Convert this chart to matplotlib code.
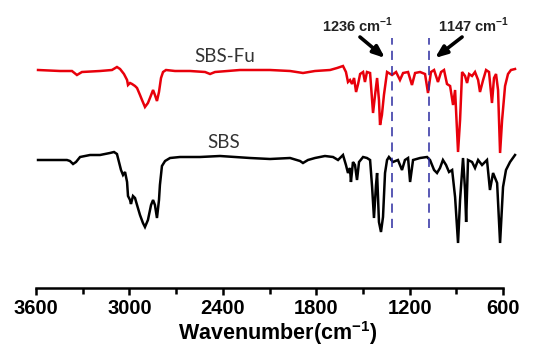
import matplotlib
matplotlib.use("Agg")
import matplotlib.pyplot as plt
import numpy as np

# ---- data (wavenumber cm-1, transmittance a.u.) ----
red_wn = [3587, 3446, 3369, 3337, 3305, 3189, 3112, 3080, 3060, 3035, 3015, 3009, 2996, 2983,
          2964, 2951, 2932, 2919, 2900, 2881, 2868, 2848, 2836, 2823, 2810, 2797, 2784, 2765,
          2707, 2611, 2514, 2482, 2450, 2290, 2097, 1968, 1885, 1808, 1711, 1666, 1628, 1609,
          1596, 1583, 1570, 1557, 1544, 1531, 1518, 1499, 1487, 1474, 1454, 1435, 1422, 1409,
          1397, 1390, 1378, 1365, 1345, 1313, 1287, 1262, 1242, 1210, 1185, 1165, 1133, 1101,
          1082, 1063, 1043, 1018, 998, 979, 960, 940, 921, 908, 889, 876, 863, 844, 831, 818,
          799, 780, 760, 748, 728, 709, 690, 671, 658, 645, 632, 619, 606, 587, 568, 549, 523]
red_t = [110, 109.5, 109.5, 107.5, 109, 109.5, 110, 111.5, 110.5, 108, 105, 102.5, 103.5, 103,
         102, 101, 97.5, 95, 91.5, 93.5, 96, 100, 97.5, 94.5, 99, 106, 109, 110,
         109.5, 109.5, 109, 108, 109, 110, 110, 109.5, 108.5, 109.5, 110, 111, 112, 109,
         104, 105, 103, 106, 99, 103, 108, 109, 104, 109, 108.5, 88.5, 97.5, 106,
         95, 82.5, 87.5, 97.5, 109, 107.5, 109, 105, 108.5, 109, 102.5, 108.5, 109, 108,
         98.5, 109, 110, 104, 109, 110, 103, 102, 92.5, 100, 69, 85, 109, 107, 103.5, 108,
         107, 109, 105, 99, 105, 110, 109, 93.5, 106, 108, 100, 68.5, 85, 102, 108, 110, 110.5]

black_wn = [3587, 3478, 3401, 3382, 3362, 3343, 3317, 3253, 3189, 3125, 3099, 3080, 3067, 3054,
            3041, 3028, 3015, 3009, 2996, 2990, 2977, 2964, 2951, 2932, 2913, 2900, 2881, 2861,
            2848, 2836, 2823, 2810, 2804, 2791, 2771, 2739, 2675, 2547, 2418, 2225, 2097, 1968,
            1904, 1885, 1853, 1808, 1744, 1692, 1660, 1628, 1609, 1596, 1583, 1577, 1564, 1551,
            1538, 1525, 1499, 1474, 1454, 1441, 1429, 1416, 1409, 1397, 1384, 1371, 1358, 1345,
            1333, 1307, 1275, 1249, 1230, 1210, 1197, 1178, 1133, 1088, 1069, 1043, 1024, 1005,
            986, 966, 947, 927, 908, 889, 876, 857, 844, 837, 825, 799, 780, 760, 735, 703,
            684, 664, 638, 619, 600, 581, 555, 523]
black_t = [65, 65, 65, 64.5, 63, 64, 66.5, 67.5, 67.5, 68.5, 69, 68, 64, 60,
           57.5, 59, 54, 47, 45, 43, 47, 46, 42.5, 37.5, 33.5, 31.5, 35, 42.5,
           45, 42.5, 36, 45, 52.5, 62, 64.5, 66, 66.5, 66.5, 67, 66, 65.5, 66,
           64.5, 63.5, 65, 66, 67, 66.5, 65, 67.5, 62.5, 58.5, 61, 54, 64, 62.5,
           55, 64, 66.5, 66, 65, 51.5, 36, 52.5, 58.5, 34, 29, 36.5, 58.5, 65,
           66.5, 64, 65, 60, 65, 66, 54, 65, 66, 66.5, 65, 60, 58.5, 61,
           65, 62.5, 59, 60, 46.5, 23.5, 45, 66, 50, 34, 65, 64, 61, 65, 62.5, 65,
           50, 58.5, 53.5, 23.5, 51.5, 60, 64, 67.5]

marker_wn = [1313, 1075]          # drawn positions of dashed guide lines
marker_labels = ["1236", "1147"]  # annotated values
series_labels = ["SBS-Fu", "SBS"]
xticks = [3600, 3000, 2400, 1800, 1200, 600]
minor_xticks = [3300, 2700, 2100, 1500, 900]

# ---- figure ----
fig = plt.figure(figsize=(5.37, 3.53), dpi=100)
W, H = 537, 353
ax = fig.add_axes([36 / W, 1 - 288 / H, (520 - 36) / W, 288 / H])
ax.set_xlim(3600, 491)
ax.set_ylim(1, 145)

ax.plot(red_wn, red_t, color="#e8000b", lw=1.8, solid_joinstyle="miter")
ax.plot(black_wn, black_t, color="black", lw=1.8, solid_joinstyle="miter")

for wn in marker_wn:
    ax.plot([wn, wn], [31, 126], color="#2b2ba0", lw=1.1, dashes=(6, 4))

tfont = dict(family="Liberation Sans", fontweight="bold", fontsize=10.5, color="#222222")
ax.text(1531, 132.5, marker_labels[0] + r" cm$^{\mathregular{-1}}$", ha="center", va="center", **tfont)
ax.text(786, 132.5, marker_labels[1] + r" cm$^{\mathregular{-1}}$", ha="center", va="center", **tfont)

arrowprops = dict(arrowstyle="-|>,head_length=0.7,head_width=0.28", color="black", lw=2.6,
                  shrinkA=0, shrinkB=0)
ax.annotate("", xy=(1358, 116), xytext=(1519, 126.5), arrowprops=arrowprops)
ax.annotate("", xy=(1037, 116), xytext=(863, 126.5), arrowprops=arrowprops)

lfont = dict(family="Lato", fontsize=13.5, color="#333333")
ax.text(2386, 116.5, series_labels[0], ha="center", va="center", **lfont)
ax.text(2392, 73.5, series_labels[1], ha="center", va="center", **lfont)

for s in ["left", "right", "top"]:
    ax.spines[s].set_visible(False)
ax.spines["bottom"].set_bounds(600, 3600)
ax.spines["bottom"].set_linewidth(1.8)
ax.set_yticks([])
ax.set_xticks(xticks)
ax.set_xticklabels([str(v) for v in xticks], family="Liberation Sans", fontweight="bold", fontsize=14.5)
ax.set_xticks(minor_xticks, minor=True)
ax.tick_params(axis="x", which="major", direction="out", length=5, width=1.8, pad=3)
ax.tick_params(axis="x", which="minor", direction="out", length=4, width=1.8)
ax.set_xlabel(r"Wavenumber(cm$^{\mathregular{-1}}$)", family="Liberation Sans", fontweight="bold",
              fontsize=15.5, labelpad=2)
ax.xaxis.set_label_coords((278 - 36) / (520 - 36), -(333 - 288) / 288)
ax.xaxis.label.set_va("center")
ax.patch.set_visible(False)

fig.savefig("out.png", dpi=100)
